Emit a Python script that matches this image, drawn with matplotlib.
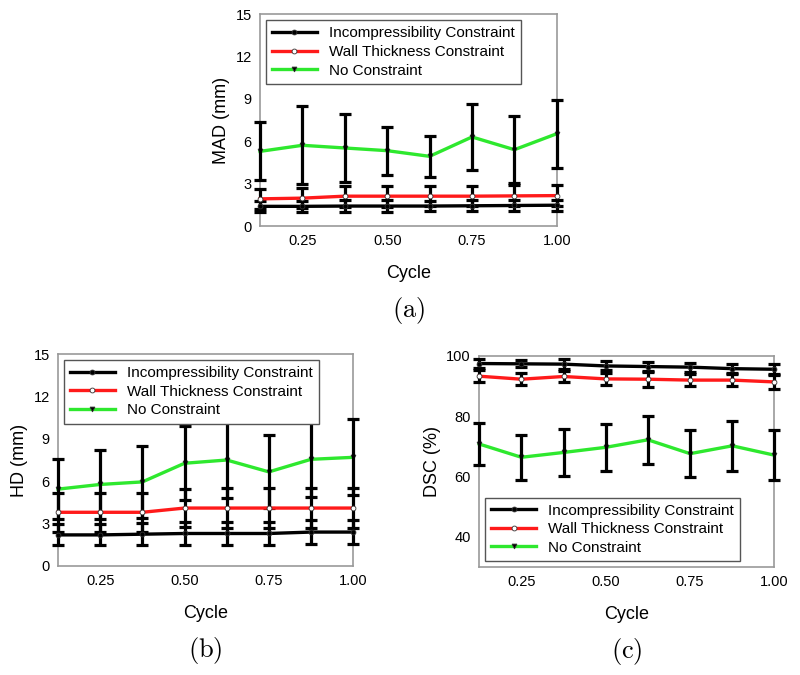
import matplotlib
matplotlib.use("Agg")
import matplotlib.pyplot as plt

plt.rcParams['font.family'] = ['Liberation Sans', 'DejaVu Sans']
plt.rcParams['mathtext.fontset'] = 'cm'

cycle = [0.125, 0.25, 0.375, 0.5, 0.625, 0.75, 0.875, 1.0]
labels = ['Incompressibility Constraint', 'Wall Thickness Constraint', 'No Constraint']

# MAD (mm)
mad_inc = [1.40, 1.40, 1.42, 1.42, 1.42, 1.44, 1.46, 1.48]
mad_inc_err = [0.40, 0.40, 0.40, 0.40, 0.38, 0.40, 0.40, 0.40]
mad_wall = [1.93, 1.98, 2.12, 2.12, 2.12, 2.12, 2.14, 2.16]
mad_wall_err = [0.70, 0.70, 0.75, 0.75, 0.72, 0.72, 0.75, 0.75]
mad_none = [5.29, 5.72, 5.53, 5.34, 4.94, 6.31, 5.41, 6.54]
mad_none_err = [2.05, 2.75, 2.40, 1.70, 1.45, 2.35, 2.35, 2.40]

# HD (mm)
hd_inc = [2.20, 2.20, 2.25, 2.30, 2.30, 2.30, 2.40, 2.40]
hd_inc_err = [0.75, 0.75, 0.78, 0.80, 0.78, 0.80, 0.85, 0.83]
hd_wall = [3.80, 3.80, 3.80, 4.10, 4.10, 4.10, 4.10, 4.10]
hd_wall_err = [1.40, 1.40, 1.40, 1.35, 1.40, 1.40, 1.40, 1.40]
hd_none = [5.44, 5.77, 5.95, 7.27, 7.50, 6.66, 7.55, 7.69]
hd_none_err = [2.15, 2.46, 2.54, 2.61, 2.70, 2.58, 2.69, 2.69]

# DSC (%)
dsc_inc = [97.5, 97.4, 97.3, 96.7, 96.5, 96.3, 95.8, 95.6]
dsc_inc_err = [1.5, 1.2, 1.6, 1.5, 1.5, 1.5, 1.4, 1.6]
dsc_wall = [93.3, 92.3, 93.2, 92.4, 92.3, 92.0, 92.0, 91.4]
dsc_wall_err = [2.0, 2.0, 1.8, 1.9, 2.5, 2.0, 2.0, 2.2]
dsc_none = [70.8, 66.4, 68.0, 69.7, 72.2, 67.6, 70.2, 67.1]
dsc_none_err = [6.9, 7.4, 7.8, 7.7, 8.0, 7.9, 8.2, 8.4]

panels = [
    # rect, ylabel, ylim, yticks, data, legend loc, caption
    ([0.325, 0.665, 0.371, 0.314], 'MAD (mm)', (0, 15), [0, 3, 6, 9, 12, 15],
     [(mad_inc, mad_inc_err), (mad_wall, mad_wall_err), (mad_none, mad_none_err)],
     'upper left', '(a)'),
    ([0.0725, 0.1615, 0.369, 0.314], 'HD (mm)', (0, 15), [0, 3, 6, 9, 12, 15],
     [(hd_inc, hd_inc_err), (hd_wall, hd_wall_err), (hd_none, hd_none_err)],
     'upper left', '(b)'),
    ([0.599, 0.16, 0.369, 0.3126], 'DSC (%)', (30, 100), [40, 60, 80, 100],
     [(dsc_inc, dsc_inc_err), (dsc_wall, dsc_wall_err), (dsc_none, dsc_none_err)],
     'lower left', '(c)'),
]

colors = ['black', '#ff1a1a', '#2ee82e']
markers = ['o', 'o', 'v']
mfcs = ['black', 'white', 'black']

fig = plt.figure(figsize=(8, 6.75), dpi=100)

for rect, ylab, ylim, yticks, series, loc, cap in panels:
    ax = fig.add_axes(rect)
    handles = []
    for i in [2, 1, 0]:
        y, e = series[i]
        eb = ax.errorbar(cycle, y, yerr=e, fmt='none', ecolor='black',
                         elinewidth=2.3, capsize=4, capthick=2.3, zorder=3 + i)
        for part in eb.lines[1] + eb.lines[2]:
            part.set_clip_on(False)
        h, = ax.plot(cycle, y, color=colors[i], lw=2.4, marker=markers[i],
                     ms=3.5, mfc=mfcs[i], mec='#333333', mew=0.6,
                     zorder=6 - i, label=labels[i], clip_on=False)
        handles.append(h)
    handles = handles[::-1]
    ax.set_xlim(0.125, 1.0)
    ax.set_ylim(*ylim)
    ax.set_xticks([0.25, 0.5, 0.75, 1.0])
    ax.set_xticklabels(['0.25', '0.50', '0.75', '1.00'])
    ax.set_yticks(yticks)
    ax.tick_params(labelsize=10.5, length=0, pad=6)
    for s in ax.spines.values():
        s.set_color('#999999')
        s.set_linewidth(1.2)
    ax.set_xlabel('Cycle', fontsize=13, labelpad=12)
    ax.set_ylabel(ylab, fontsize=13, labelpad=4)
    leg = ax.legend(handles=handles, loc=loc, fontsize=11, frameon=True,
                    fancybox=False, handlelength=2.9, borderaxespad=0.4,
                    labelspacing=0.3, framealpha=1.0)
    leg.set_zorder(20)
    leg.get_frame().set_edgecolor('#555555')
    leg.get_frame().set_linewidth(1.0)
    ax.text(0.5, -0.325, r'$\mathrm{' + cap + '}$', transform=ax.transAxes,
            ha='center', va='top', fontsize=19)

fig.savefig('out.png', dpi=100)
